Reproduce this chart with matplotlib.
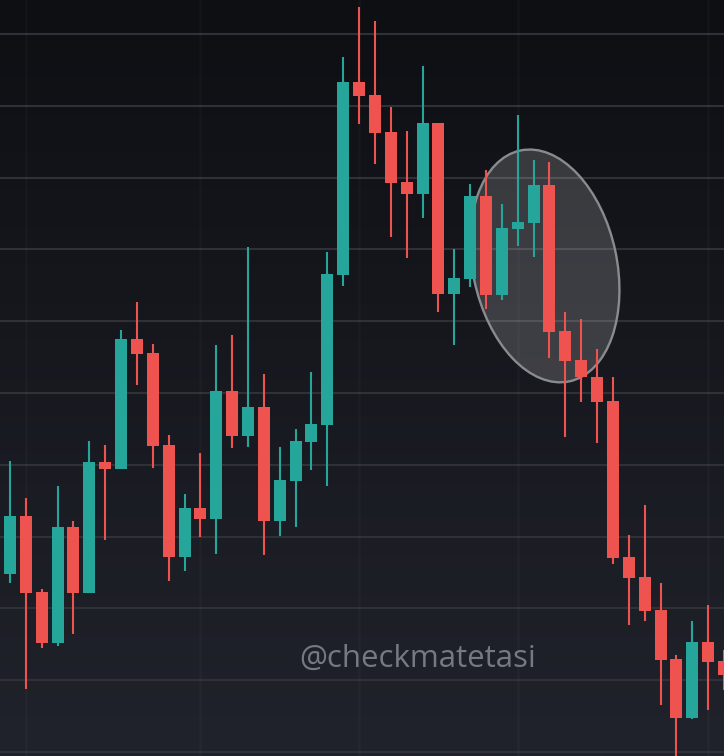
import numpy as np
import matplotlib
matplotlib.use("Agg")
import matplotlib.pyplot as plt
from matplotlib.patches import Ellipse
from matplotlib import transforms

# OHLC (arbitrary price scale, 1 unit per grid line)
opens = [22.48, 23.29, 22.23, 21.52, 23.13, 22.21, 24.04, 23.94, 25.75, 25.56,
         24.28, 22.72, 23.40, 23.25, 25.03, 24.40, 24.81, 23.22, 23.77, 24.32,
         24.55, 26.64, 29.33, 29.15, 28.64, 27.94, 27.77, 28.76, 26.38, 26.59,
         27.74, 26.37, 27.28, 27.37, 27.90, 25.86, 25.46, 25.22, 24.89, 22.72,
         22.44, 21.98, 21.30, 20.47, 21.53, 21.27]
highs = [24.05, 23.54, 22.27, 23.70, 23.22, 24.33, 24.28, 25.88, 26.27, 25.68,
         24.42, 23.59, 24.16, 25.67, 25.81, 27.03, 25.26, 24.25, 24.50, 25.29,
         26.96, 29.68, 30.38, 30.18, 28.98, 28.65, 29.55, 28.76, 27.01, 27.91,
         28.11, 27.63, 28.87, 28.25, 28.22, 26.13, 26.03, 25.61, 25.22, 23.02,
         23.44, 22.35, 21.35, 21.82, 22.05, 21.42]
lows = [22.35, 20.88, 21.45, 21.48, 21.64, 22.21, 22.95, 23.94, 25.11, 23.96,
        22.38, 22.52, 22.99, 22.76, 24.23, 24.25, 22.74, 23.01, 23.13, 23.93,
        23.70, 26.49, 28.75, 28.19, 27.17, 26.88, 27.44, 26.13, 25.67, 26.48,
        26.17, 26.30, 27.05, 26.89, 25.49, 24.39, 24.87, 24.30, 22.62, 21.77,
        21.82, 20.65, 19.75, 20.46, 20.58, 20.86]
closes = [23.29, 22.21, 21.52, 23.13, 22.21, 24.04, 23.94, 25.75, 25.54, 24.26,
          22.72, 23.40, 23.25, 25.03, 24.40, 24.81, 23.22, 23.79, 24.33, 24.57,
          26.66, 29.33, 29.14, 28.62, 27.93, 27.77, 28.76, 26.38, 26.60, 27.74,
          26.37, 27.30, 27.38, 27.90, 25.85, 25.45, 25.22, 24.87, 22.70, 22.42,
          21.96, 21.28, 20.47, 21.53, 21.25, 21.07]
grid_levels = np.arange(20, 31)
session_breaks = [1, 12, 22, 32, 44]
watermark = "@checkmatetasi"

up_col = "#26a69a"
down_col = "#ef5350"

fig = plt.figure(figsize=(7.24, 7.56), dpi=100)
ax = fig.add_axes([0, 0, 1, 1])
ax.set_xlim(-0.63, 45.0)
ax.set_ylim(19.944, 30.474)

# background gradient, dark at top
grad = np.linspace(0, 1, 256).reshape(-1, 1)
top = np.array([14, 15, 19]) / 255
bot = np.array([33, 35, 44]) / 255
img = top + (bot - top) * grad[..., None]
ax.imshow(img, extent=[-0.63, 45.0, 19.944, 30.474], origin="upper", aspect="auto", zorder=0)

for lv in grid_levels:
    ax.axhline(lv, color="#303136", lw=1.5, zorder=1)
for b in session_breaks:
    ax.axvline(b, color=(1, 1, 1, 0.025), lw=2, zorder=1)

# highlight ellipse
cx, cy = 33.71, 26.77
ell = Ellipse((0, 0), 1.44, 2.36, angle=12,
              transform=fig.dpi_scale_trans + transforms.ScaledTranslation(cx, cy, ax.transData),
              facecolor=(1, 1, 1, 0.17), edgecolor="#8a8b8e", lw=1.7, zorder=2)
ax.add_patch(ell)

x = np.arange(len(opens))
o = np.array(opens)
c = np.array(closes)
cols = [up_col if cc >= oo else down_col for oo, cc in zip(o, c)]
ax.vlines(x, lows, highs, colors=cols, lw=1.5, zorder=3)
ax.bar(x, c - o, bottom=o, width=0.76, color=cols, zorder=4)

ax.text(0.577, 0.118, watermark, transform=ax.transAxes, ha="center", va="baseline",
        fontsize=22.5, family="Open Sans", color="#767984", zorder=5)

for s in ax.spines.values():
    s.set_visible(False)
ax.set_xticks([])
ax.set_yticks([])

fig.savefig("out.png", dpi=100)
